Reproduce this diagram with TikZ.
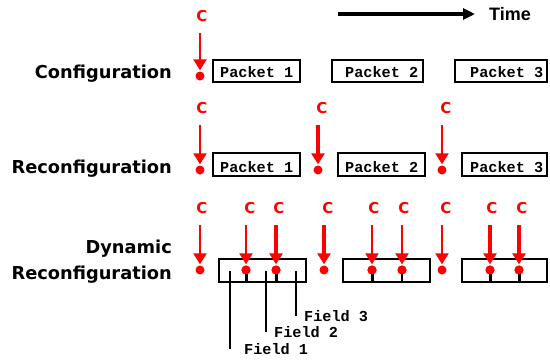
\documentclass[tikz,border=0pt]{standalone}
\usepackage{fontspec}
\setmainfont{DejaVu Sans}
\newfontfamily\monob{Liberation Mono}
\newfontfamily\timef{Liberation Sans}
\usetikzlibrary{arrows.meta}
\begin{document}
\begin{tikzpicture}[x=1pt,y=-1pt,
  lbl/.style={font=\fontsize{17.8}{21}\selectfont\bfseries, anchor=base east, inner sep=0},
  cl/.style={font=\fontsize{15}{18}\selectfont\bfseries, text=red, inner sep=0},
  rdot/.style={circle, fill=red, inner sep=0, minimum size=9pt},
  carr/.style={draw=red, line width=2.2pt, -{Triangle[width=13pt,length=11pt]}, shorten >=1pt, shorten <=11pt},
  carrk/.style={carr, line width=3.6pt},
  pbox/.style={draw, line width=1.8pt, inner sep=0, minimum height=22pt},
  ptext/.style={font=\monob\bfseries\fontsize{15.2}{18}\selectfont, anchor=base west, inner sep=0},
  ftext/.style={font=\monob\bfseries\fontsize{15.2}{18}\selectfont, anchor=west, inner sep=0},
  divk/.style={line width=3pt},
  divn/.style={line width=1.6pt},
  lead/.style={line width=1.5pt},
  tarr/.style={line width=3.6pt, -{Triangle[width=11pt,length=12pt]}}
]
\useasboundingbox (0,0) rectangle (550,360);

% Time arrow
\node[font=\timef\bfseries\fontsize{18}{21}\selectfont, inner sep=0, anchor=west] (time) at (489,14) {Time};
\coordinate (ts) at (338,14);
\coordinate (te) at (475,14);
\draw[tarr] (ts) -- (te);

% Left labels
\node[lbl] (l1) at (172,78) {Configuration};
\node[lbl] (l2) at (172,173) {Reconfiguration};
\node[lbl] (l3a) at (172,253) {Dynamic};
\node[lbl] (l3b) at (172,279) {Reconfiguration};

% Row 1
\node[pbox, minimum width=87pt] (b11) at (256.5,71) {};
\node[pbox, minimum width=91pt] (b12) at (377.5,71) {};
\node[pbox, minimum width=92pt] (b13) at (501,71) {};
\node[ptext] (t11) at (220,77) {Packet 1};
\node[ptext] (t12) at (345,77) {Packet 2};
\node[ptext] (t13) at (470,77) {Packet 3};
\node[rdot] (d11) at (200,76) {};
\node[cl] (c11) at (202,16) {C};
\draw[carr] (c11.south -| d11) -- (d11);

% Row 2
\node[pbox, minimum width=87pt, minimum height=23pt] (b21) at (256.5,164.5) {};
\node[pbox, minimum width=87pt, minimum height=23pt] (b22) at (381.5,164.5) {};
\node[pbox, minimum width=85pt, minimum height=23pt] (b23) at (504.5,164.5) {};
\node[ptext] (t21) at (220,172) {Packet 1};
\node[ptext] (t22) at (345,172) {Packet 2};
\node[ptext] (t23) at (470,172) {Packet 3};
\node[rdot] (d21) at (200,170) {};
\node[rdot] (d22) at (318,170) {};
\node[rdot] (d23) at (442,170) {};
\node[cl] (c21) at (202,108) {C};
\node[cl] (c22) at (322,108) {C};
\node[cl] (c23) at (446,108) {C};
\draw[carr] (c21.south -| d21) -- (d21);
\draw[carrk] (c22.south -| d22) -- (d22);
\draw[carr] (c23.south -| d23) -- (d23);

% Row 3 boxes
\node[pbox, minimum width=87pt, minimum height=23pt] (b31) at (262.5,270.5) {};
\node[pbox, minimum width=87pt, minimum height=23pt] (b32) at (386.5,270.5) {};
\node[pbox, minimum width=85pt, minimum height=23pt] (b33) at (504.5,270.5) {};

% Row 3 dots
\node[rdot] (d31) at (200,270) {};
\node[rdot] (d32) at (246,270) {};
\node[rdot] (d33) at (276,270) {};
\node[rdot] (d34) at (324,270) {};
\node[rdot] (d35) at (372,270) {};
\node[rdot] (d36) at (402,270) {};
\node[rdot] (d37) at (442,270) {};
\node[rdot] (d38) at (490,270) {};
\node[rdot] (d39) at (519,270) {};

% field dividers
\draw[divk] (d32.center) -- (b31.south -| d32);
\draw[divk] (d33.center) -- (b31.south -| d33);
\draw[divk] (d35.center) -- (b32.south -| d35);
\draw[divn] (d36.center) -- (b32.south -| d36);
\draw[divk] (d38.center) -- (b33.south -| d38);
\draw[divk] (d39.center) -- (b33.south -| d39);
\foreach \d in {d32,d33,d35,d36,d38,d39} \node[rdot] at (\d) {};

% Row 3 C labels and arrows
\node[cl] (c31) at (202,208) {C};
\node[cl] (c32) at (250,208) {C};
\node[cl] (c33) at (279,208) {C};
\node[cl] (c34) at (328,208) {C};
\node[cl] (c35) at (374,208) {C};
\node[cl] (c36) at (404,208) {C};
\node[cl] (c37) at (446,208) {C};
\node[cl] (c38) at (492,208) {C};
\node[cl] (c39) at (522,208) {C};
\draw[carr] (c31.south -| d31) -- (d31);
\draw[carr] (c32.south -| d32) -- (d32);
\draw[carrk] (c33.south -| d33) -- (d33);
\draw[carrk] (c34.south -| d34) -- (d34);
\draw[carr] (c35.south -| d35) -- (d35);
\draw[carr] (c36.south -| d36) -- (d36);
\draw[carr] (c37.south -| d37) -- (d37);
\draw[carrk] (c38.south -| d38) -- (d38);
\draw[carrk] (c39.south -| d39) -- (d39);

% Field labels
\node[ftext] (f1) at (244,349) {Field 1};
\node[ftext] (f2) at (274,332) {Field 2};
\node[ftext] (f3) at (304,316) {Field 3};
\coordinate (f1t) at (230,271);
\coordinate (f2t) at (266,271);
\coordinate (f3t) at (296,271);
\draw[lead] (f1t) -- (f1t |- f1.west);
\draw[lead] (f2t) -- (f2t |- f2.west);
\draw[lead] (f3t) -- (f3t |- f3.west);
\end{tikzpicture}
\end{document}
